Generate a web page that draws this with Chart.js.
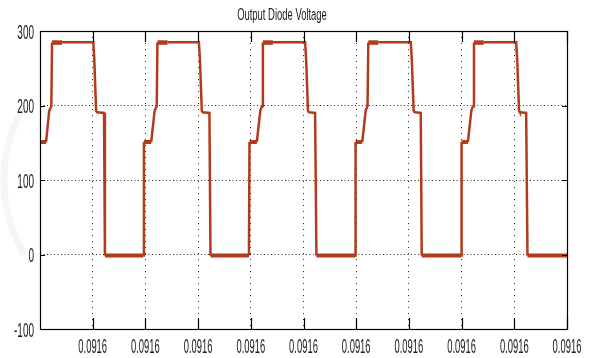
<!DOCTYPE html>
<html>
<head>
<meta charset="utf-8">
<script src="https://cdn.jsdelivr.net/npm/chart.js@4.4.1/dist/chart.umd.min.js"></script>
<style>
  html, body { margin: 0; padding: 0; background: #ffffff; }
  canvas { display: block; }
</style>
</head>
<body>
<canvas id="c" width="597" height="358"></canvas>
<script>
// Sample times (one unit per x-axis division) and the diode voltage at each sample.
const timeAxis = [
  0.000, 0.115, 0.175, 0.200, 0.215, 0.228, 0.420, 0.440, 1.012, 1.030, 1.065, 1.085, 1.215, 1.232, 1.960,
  1.972, 2.110, 2.175, 2.200, 2.215, 2.228, 2.420, 2.440, 3.015, 3.035, 3.070, 3.090, 3.215, 3.235, 3.965,
  3.975, 4.115, 4.180, 4.200, 4.215, 4.230, 4.420, 4.440, 5.030, 5.050, 5.085, 5.100, 5.220, 5.245, 5.978,
  5.988, 6.115, 6.180, 6.200, 6.215, 6.230, 6.420, 6.440, 7.035, 7.055, 7.090, 7.105, 7.225, 7.243, 7.990,
  8.000, 8.120, 8.185, 8.205, 8.220, 8.235, 8.420, 8.440, 9.035, 9.055, 9.090, 9.105, 9.225, 9.250, 10.000
];
const diodeVolts = [
  151, 151, 193, 197, 199, 284.5, 284.5, 285, 285, 262, 193, 191, 190, -1.5, -1.5,
  151, 151, 193, 197, 199, 284.5, 284.5, 285, 285, 262, 193, 191, 190, -1.5, -1.5,
  151, 151, 193, 197, 199, 284.5, 284.5, 285, 285, 262, 193, 191, 190, -1.5, -1.5,
  151, 151, 193, 197, 199, 284.5, 284.5, 285, 285, 262, 193, 191, 190, -1.5, -1.5,
  151, 151, 193, 197, 199, 284.5, 284.5, 285, 285, 262, 193, 191, 190, -1.5, -1.5
];
const xTickValues = [1, 2, 3, 4, 5, 6, 7, 8, 9, 10];
const xTickLabels = ['0.0916', '0.0916', '0.0916', '0.0916', '0.0916', '0.0916', '0.0916', '0.0916', '0.0916', '0.0916'];
const yTickValues = [-100, 0, 100, 200, 300];
const yTickLabels = ['-100', '0', '100', '200', '300'];
const chartTitle = 'Output Diode Voltage';

const points = timeAxis.map((t, i) => ({ x: t, y: diodeVolts[i] }));
const traceColor = '#b23b1d';
const inkColor = '#1c1c1c';

// Narrow, tall lettering in the style of the scope export
function narrowText(ctx, text, x, y, align, sx, font) {
  ctx.save();
  ctx.font = font;
  ctx.fillStyle = inkColor;
  ctx.textAlign = align;
  ctx.textBaseline = 'alphabetic';
  ctx.translate(x, y);
  ctx.scale(sx, 1);
  ctx.fillText(text, 0, 0);
  ctx.restore();
}

const framePlugin = {
  id: 'frame',
  beforeDraw(chart) {
    const ctx = chart.ctx;
    ctx.save();
    ctx.fillStyle = '#ffffff';
    ctx.fillRect(0, 0, chart.width, chart.height);
    // faint page mark on the left margin
    ctx.strokeStyle = 'rgba(200,200,200,0.16)';
    ctx.lineWidth = 7;
    ctx.beginPath();
    ctx.arc(150, 180, 146, Math.PI * 0.83, Math.PI * 1.17);
    ctx.stroke();
    ctx.restore();
  },
  afterDraw(chart) {
    const ctx = chart.ctx;
    const a = chart.chartArea;
    const xs = chart.scales.x, ys = chart.scales.y;
    ctx.save();
    // axes box
    ctx.strokeStyle = '#000';
    ctx.lineWidth = 1.2;
    ctx.strokeRect(a.left + 0.5, a.top + 0.5, a.right - a.left, a.bottom - a.top);
    // inward tick marks
    ctx.lineWidth = 1.2;
    ctx.beginPath();
    xTickValues.forEach(v => {
      const px = Math.round(xs.getPixelForValue(v)) + 0.5;
      ctx.moveTo(px, a.bottom); ctx.lineTo(px, a.bottom - 11);
      ctx.moveTo(px, a.top); ctx.lineTo(px, a.top + 11);
    });
    yTickValues.forEach(v => {
      const py = Math.round(ys.getPixelForValue(v)) + 0.5;
      ctx.moveTo(a.left, py); ctx.lineTo(a.left + 5, py);
      ctx.moveTo(a.right, py); ctx.lineTo(a.right - 5, py);
    });
    ctx.stroke();
    ctx.restore();

    const tickFont = '20px "Liberation Sans", Arial, sans-serif';
    xTickValues.forEach((v, i) => {
      narrowText(ctx, xTickLabels[i], xs.getPixelForValue(v), 353, 'center', 0.47, tickFont);
    });
    yTickValues.forEach((v, i) => {
      narrowText(ctx, yTickLabels[i], 34, ys.getPixelForValue(v) + 7.5, 'right', 0.5, tickFont);
    });
    narrowText(ctx, chartTitle, 282, 20, 'center', 0.59, '16px "Liberation Sans", Arial, sans-serif');
  }
};

new Chart(document.getElementById('c'), {
  type: 'line',
  data: {
    datasets: [{
      data: points,
      borderColor: traceColor,
      borderWidth: 2.5,
      pointRadius: 0,
      tension: 0,
      fill: false,
      segment: {
        borderWidth: s => {
          const y0 = s.p0.parsed.y, y1 = s.p1.parsed.y;
          if (y0 === y1 && (y0 === 151 || y0 === -1.5)) return 4;
          if (y0 === y1 && y0 === 284.5) return 4.5;
          return 2.5;
        }
      }
    }]
  },
  options: {
    responsive: false,
    devicePixelRatio: 1,
    animation: false,
    layout: { padding: { left: 40, right: 30, top: 31, bottom: 29 } },
    plugins: { legend: { display: false }, tooltip: { enabled: false }, title: { display: false } },
    scales: {
      x: {
        type: 'linear', min: 0, max: 10,
        ticks: { display: false, stepSize: 1 },
        grid: {
          drawTicks: false,
          color: c => (c.tick && (c.tick.value === 0 || c.tick.value === 10)) ? 'rgba(0,0,0,0)' : '#2a2a2a',
          lineWidth: 1
        },
        border: { display: false, dash: [1, 5] }
      },
      y: {
        type: 'linear', min: -100, max: 300,
        ticks: { display: false, stepSize: 100 },
        grid: {
          drawTicks: false,
          color: c => (c.tick && (c.tick.value === -100 || c.tick.value === 300)) ? 'rgba(0,0,0,0)' : '#2a2a2a',
          lineWidth: 1
        },
        border: { display: false, dash: [1, 2.5] }
      }
    }
  },
  plugins: [framePlugin]
});
</script>
</body>
</html>
